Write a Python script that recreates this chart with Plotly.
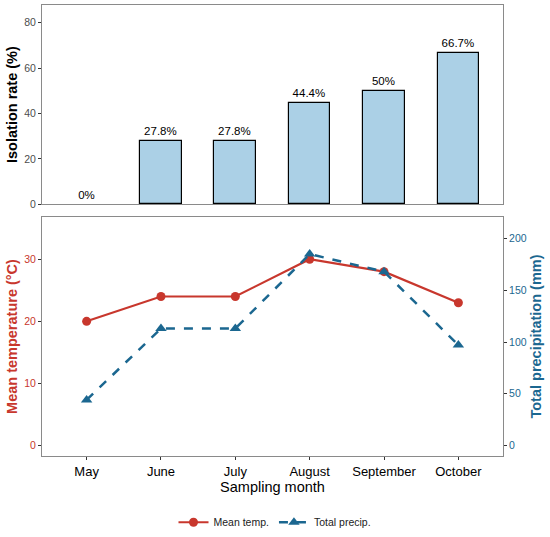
import plotly.graph_objs as go

months = ["May", "June", "July", "August", "September", "October"]
isolation_rate = [0, 27.8, 27.8, 44.4, 50, 66.7]
mean_temp = [20, 24, 24, 30, 28, 23]
total_precip = [44, 113, 113, 185, 168, 97]

red = "#c8372d"
blue = "#1b6790"
frame_col = "#8a8a8a"
font = "Liberation Sans, Arial, sans-serif"

fig = go.Figure()

# top panel: isolation rate bars (no outline on the empty bar)
fig.add_trace(go.Bar(
    x=months, y=isolation_rate, width=0.56,
    marker=dict(color="#abd0e6",
                line=dict(color="black", width=[1.2 if v > 0 else 0 for v in isolation_rate])),
    text=[f"{v:g}%" for v in isolation_rate], textposition="outside",
    textfont=dict(size=11.5, color="black"), cliponaxis=False,
    xaxis="x", yaxis="y", showlegend=False,
))

# bottom panel: temperature and precipitation
fig.add_trace(go.Scatter(
    x=months, y=mean_temp, mode="lines+markers", name="Mean temp.",
    line=dict(color=red, width=2.2), marker=dict(size=9, color=red),
    xaxis="x2", yaxis="y2",
))
fig.add_trace(go.Scatter(
    x=months, y=total_precip, mode="lines+markers", name="Total precip.",
    line=dict(color=blue, width=2.5, dash="dash"),
    marker=dict(size=10, color=blue, symbol="triangle-up"),
    xaxis="x2", yaxis="y3",
))

axis_common = dict(showline=True, linecolor=frame_col, linewidth=1, mirror=True,
                   showgrid=False, zeroline=False, ticks="outside", ticklen=3,
                   tickcolor="#333333", automargin=False)

fig.update_layout(
    width=550, height=537,
    margin=dict(l=0, r=0, t=0, b=0),
    plot_bgcolor="white", paper_bgcolor="white",
    font=dict(family=font, color="black"),
    bargap=0,
    xaxis=dict(axis_common, domain=[0.0764, 0.9145], anchor="y",
               range=[-0.6, 5.6], showticklabels=False, ticks=""),
    yaxis=dict(axis_common, domain=[0.6125, 0.9906], anchor="x",
               range=[0, 87.8], tickvals=[0, 20, 40, 60, 80],
               tickfont=dict(size=10.5, color="#4d4d4d"),
               title=dict(text="<b>Isolation rate (%)</b>", font=dict(size=14.5), standoff=3)),
    xaxis2=dict(axis_common, domain=[0.0764, 0.9145], anchor="y2",
                range=[-0.6, 5.6], tickfont=dict(size=13),
                title=dict(text="Sampling month", font=dict(size=14.5), standoff=4)),
    yaxis2=dict(axis_common, domain=[0.1348, 0.5881], anchor="x2",
                range=[-1.7, 36.8], tickvals=[0, 10, 20, 30],
                tickfont=dict(size=10.5, color=red),
                title=dict(text="<b>Mean temperature (°C)</b>", font=dict(size=14.5, color=red), standoff=3)),
    yaxis3=dict(showline=True, linecolor=frame_col, showgrid=False, zeroline=False,
                ticks="outside", ticklen=3, tickcolor="#333333", automargin=False,
                overlaying="y2", side="right", anchor="x2",
                range=[-10.2, 220.8], tickvals=[0, 50, 100, 150, 200],
                tickfont=dict(size=10.5, color=blue),
                title=dict(text="<b>Total precipitation (mm)</b>", font=dict(size=14.5, color=blue), standoff=5)),
    legend=dict(orientation="h", x=0.5, xanchor="center", y=0.009, yanchor="middle",
                font=dict(size=10.5, color="#222222"), itemwidth=30),
)

# drop the default page margin and any extra page height so the figure fills the window
page_css = ("document.body.style.margin='0';"
            "document.documentElement.style.overflow='hidden';"
            "document.body.style.overflow='hidden';"
            "document.body.style.height='537px';")
fig.write_html("out.html", config={"displayModeBar": False}, post_script=page_css)
